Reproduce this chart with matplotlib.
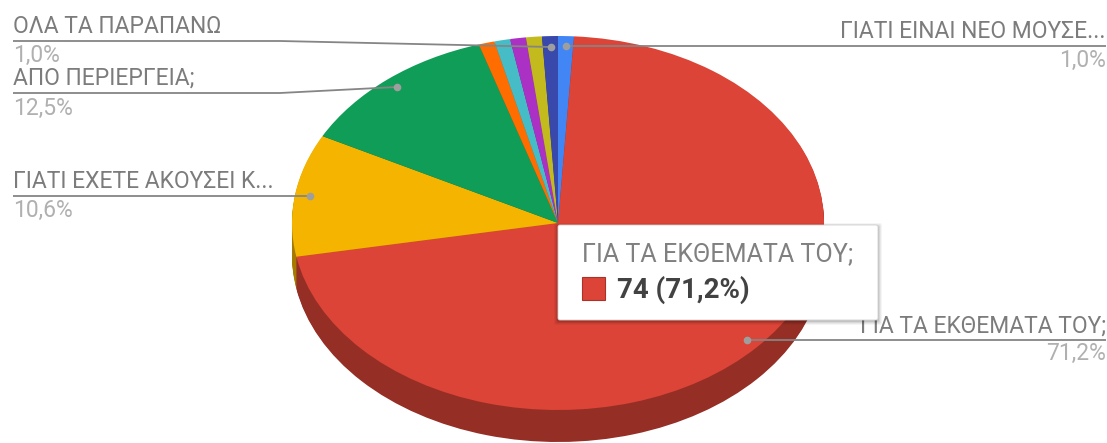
import matplotlib.pyplot as plt
import matplotlib.colors as mcolors
from matplotlib.patches import FancyBboxPatch, Rectangle

plt.rcParams["font.family"] = ["Roboto", "DejaVu Sans"]

# Slices clockwise from 12 o'clock
counts = [1, 74, 11, 13, 1, 1, 1, 1, 1]
colors = ["#4285F4", "#DB4437", "#F4B400", "#0F9D58", "#FF6D01",
          "#46BDC6", "#AB30C4", "#C3BA1E", "#3949AB"]

names = ["ΟΛΑ ΤΑ ΠΑΡΑΠΑΝΩ", "ΑΠΟ ΠΕΡΙΕΡΓΕΙΑ;", "ΓΙΑΤΙ ΕΧΕΤΕ ΑΚΟΥΣΕΙ Κ...",
         "ΓΙΑΤΙ ΕΙΝΑΙ ΝΕΟ ΜΟΥΣΕ...", "ΓΙΑ ΤΑ ΕΚΘΕΜΑΤΑ ΤΟΥ;"]
percents = ["1,0%", "12,5%", "10,6%", "1,0%", "71,2%"]
tooltip_title = "ΓΙΑ ΤΑ ΕΚΘΕΜΑΤΑ ΤΟΥ;"
tooltip_value = "74 (71,2%)"

W, H = 1107, 443
cx, cy, rx, ry, depth = 558, 223, 266, 187, 32

fig = plt.figure(figsize=(W / 100, H / 100), dpi=100)

# pie axes: one data unit is rx pixels across and ry pixels down
pie_ax = fig.add_axes([0, 0, 1, 1])
dark = [tuple(c * 0.68 for c in mcolors.to_rgb(col)) for col in colors]
for d in range(depth, 0, -1):
    pie_ax.pie(counts, colors=dark, startangle=90, counterclock=False,
               center=(0, -d / ry), radius=1, wedgeprops={"linewidth": 0})
pie_ax.pie(counts, colors=colors, startangle=90, counterclock=False,
           center=(0, 0), radius=1, wedgeprops={"linewidth": 0})
pie_ax.set_aspect("auto")
pie_ax.set_xlim(-cx / rx, (W - cx) / rx)
pie_ax.set_ylim((cy - H) / ry, cy / ry)
pie_ax.axis("off")

# overlay axes in pixel coordinates for labels and tooltip
ax = fig.add_axes([0, 0, 1, 1])
ax.set_xlim(0, W)
ax.set_ylim(H, 0)
ax.axis("off")
ax.patch.set_alpha(0)

line_col = "#858585"
dot_col = "#9e9e9e"
leaders = [
    ([13, 280, 551], [41, 41, 47]),
    ([13, 280, 397], [93, 93, 87]),
    ([13, 310], [196, 196]),
    ([1106, 566], [46, 46]),
    ([1106, 747], [340, 340]),
]
for xs, ys in leaders:
    ax.plot(xs, ys, color=line_col, lw=1.3, solid_capstyle="butt", zorder=3)
    ax.plot(xs[-1], ys[-1], "o", ms=5.5, color=dot_col, mew=0, zorder=4)

# x, name y, percent y, alignment
label_pos = [(13, 26, 55, "left"), (13, 78, 108, "left"), (13, 181, 210, "left"),
             (1106, 31, 60, "right"), (1106, 326, 353, "right")]
for (x, y, y2, ha), name, pct in zip(label_pos, names, percents):
    ax.text(x, y, name, color="#7c7c7c", fontsize=16.5, ha=ha, va="center", zorder=3)
    ax.text(x, y2, pct, color="#b0b0b0", fontsize=16.5, ha=ha, va="center", zorder=3)

# tooltip with soft shadow
for grow, alpha in [(4, 0.04), (3, 0.05), (2, 0.07), (1, 0.09)]:
    ax.add_patch(FancyBboxPatch((558 - grow, 226 - grow + 1), 320 + 2 * grow, 94 + 2 * grow,
                                boxstyle="round,pad=0,rounding_size=2", fc="black",
                                ec="none", alpha=alpha, zorder=5))
ax.add_patch(FancyBboxPatch((558, 225), 320, 95, boxstyle="round,pad=0,rounding_size=2",
                            fc="white", ec="#d0d0d0", lw=0.6, zorder=6))
ax.text(582, 254, tooltip_title, color="#808080", fontsize=18.1, va="center", zorder=7)
ax.add_patch(Rectangle((582, 277), 23, 23, fc=colors[1], ec="#a83429", lw=0.8, zorder=7))
ax.text(617, 290, tooltip_value, color="#424242", fontsize=19.9, fontweight="bold",
        va="center", zorder=7)

fig.savefig("out.png", dpi=100)
